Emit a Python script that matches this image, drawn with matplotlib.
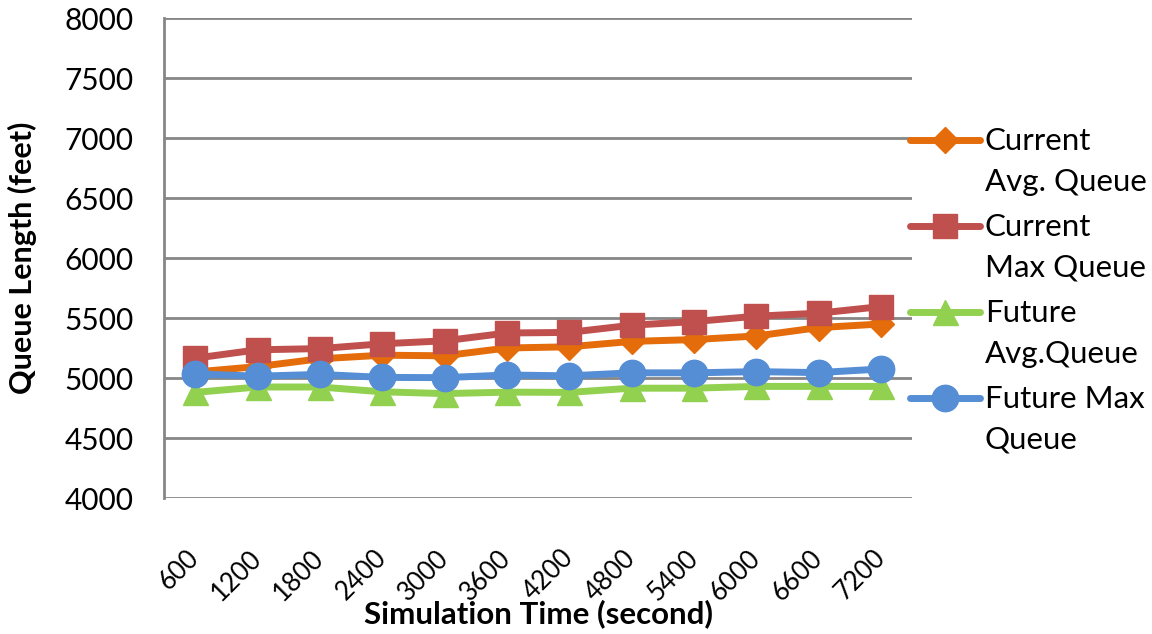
import matplotlib
matplotlib.use("Agg")
import matplotlib.pyplot as plt
from matplotlib.lines import Line2D
import matplotlib.transforms as mtransforms
import numpy as np

plt.rcParams['font.family'] = ['Lato', 'DejaVu Sans']

sim_time = ['600', '1200', '1800', '2400', '3000', '3600', '4200', '4800', '5400', '6000', '6600', '7200']
current_avg = [5050, 5095, 5160, 5190, 5185, 5250, 5260, 5305, 5320, 5350, 5420, 5450]
current_max = [5165, 5235, 5245, 5285, 5310, 5375, 5380, 5440, 5470, 5515, 5540, 5595]
future_avg = [4880, 4925, 4925, 4885, 4870, 4882, 4880, 4915, 4915, 4930, 4930, 4930]
future_max = [5035, 5015, 5030, 5005, 5003, 5025, 5018, 5043, 5043, 5053, 5045, 5075]

series_names = ['Current\nAvg. Queue', 'Current\nMax Queue', 'Future\nAvg.Queue', 'Future Max\nQueue']
colors = ['#E46C0A', '#C0504D', '#92D050', '#558ED5']
markers = ['D', 's', '^', 'o']
msizes = [13, 17, 18, 19]

W, H = 1152, 634
fig = plt.figure(figsize=(W / 100, H / 100), dpi=100)
ax = fig.add_axes([164 / W, 1 - 498 / H, (912 - 164) / W, (498 - 18) / H])

x = np.arange(len(sim_time))
all_series = [current_avg, current_max, future_avg, future_max]
for vals, c, m, ms in zip(all_series, colors, markers, msizes):
    ax.plot(x, vals, color=c, marker=m, markersize=ms, linewidth=5, clip_on=False, zorder=3)

ax.set_xlim(-0.5, len(sim_time) - 0.5)
ax.set_ylim(4000, 8000)
ax.set_yticks(np.arange(4000, 8001, 500))
ax.yaxis.grid(True, color='#868686', linewidth=2)
ax.set_axisbelow(True)
for s in ['top', 'right', 'bottom']:
    ax.spines[s].set_visible(False)
ax.spines['left'].set_color('#868686')
ax.spines['left'].set_linewidth(2)
ax.tick_params(axis='y', length=0, pad=22, labelsize=21.5)
ax.tick_params(axis='x', length=0, pad=34, labelsize=18.5)
ax.set_xticks(x)
ax.set_xticklabels(sim_time, rotation=45, ha='right', va='top')
offset = mtransforms.ScaledTranslation(9 / 100, 0, fig.dpi_scale_trans)
for lab in ax.get_xticklabels():
    lab.set_transform(lab.get_transform() + offset)

ax.set_ylabel('Queue Length (feet)', fontsize=22, fontweight='bold')
ax.yaxis.set_label_coords(-(164 - 37) / (912 - 164), 0.5)
ax.set_xlabel('Simulation Time (second)', fontsize=22.5, fontweight='bold')
ax.xaxis.set_label_coords(0.5, -(599 - 498) / (498 - 18))

# manual legend
leg_y = [140, 226, 312, 398]
for name, c, m, ms, yy in zip(series_names, colors, markers, msizes, leg_y):
    yf = 1 - yy / H
    ln = Line2D([910 / W, 945 / W, 980 / W], [yf, yf, yf], transform=fig.transFigure,
                color=c, linewidth=5, marker=m, markersize=ms, markevery=[1],
                solid_capstyle='round')
    fig.add_artist(ln)
    fig.text(985 / W, 1 - (yy - 13) / H, name, fontsize=22.5, va='top', ha='left',
             linespacing=1.55, transform=fig.transFigure)

fig.savefig('out.png', dpi=100)
